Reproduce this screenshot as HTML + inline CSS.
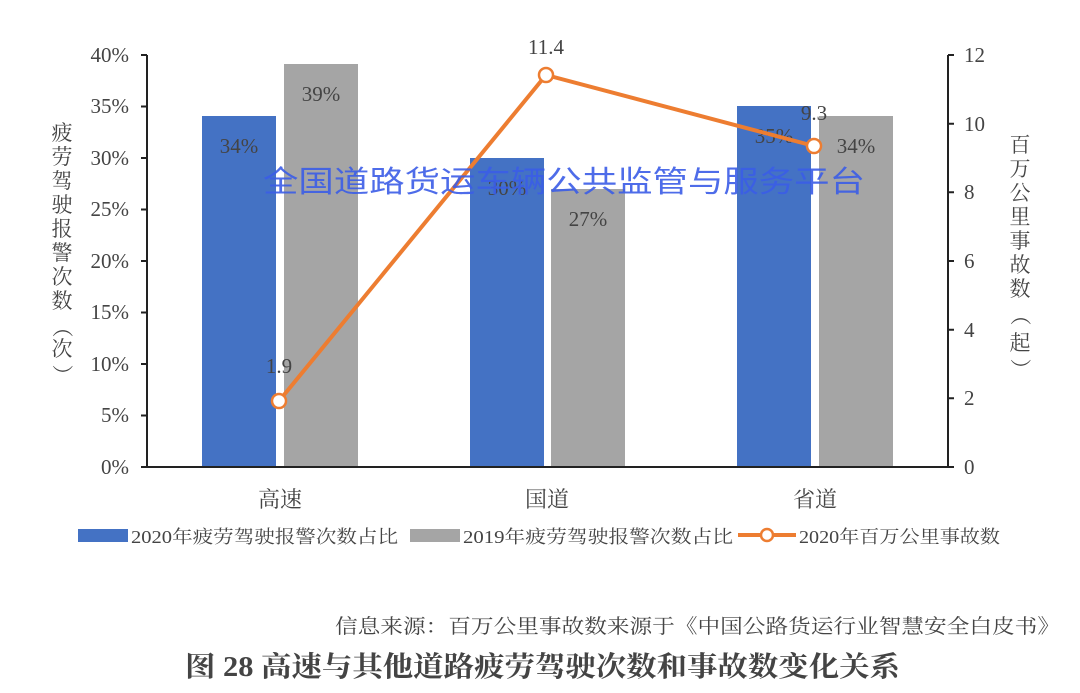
<!DOCTYPE html>
<html><head><meta charset="utf-8"><style>
html,body{margin:0;padding:0;background:#fff;}
svg{display:block;}
text{font-family:"Liberation Serif","Noto Serif CJK SC",serif;fill:#444;}
</style></head><body>
<svg width="1080" height="693" viewBox="0 0 1080 693" xmlns="http://www.w3.org/2000/svg">
<rect width="1080" height="693" fill="#fff"/>
<rect x="202" y="116" width="74" height="351" fill="#4472c4"/>
<rect x="284" y="64" width="74" height="403" fill="#a5a5a5"/>
<rect x="470" y="158" width="74" height="309" fill="#4472c4"/>
<rect x="551" y="189" width="74" height="278" fill="#a5a5a5"/>
<rect x="737" y="106" width="74" height="361" fill="#4472c4"/>
<rect x="819" y="116" width="74" height="351" fill="#a5a5a5"/>
<g stroke="#222" stroke-width="2" fill="none">
<line x1="147" y1="55" x2="147" y2="467"/>
<line x1="147" y1="467" x2="948" y2="467"/>
<line x1="948" y1="55" x2="948" y2="467"/>
<path d="M141 55H147M141 106.5H147M141 158H147M141 209.5H147M141 261H147M141 312.5H147M141 364H147M141 415.5H147M141 467H147"/>
<path d="M948 55H954M948 123.7H954M948 192.3H954M948 261H954M948 329.7H954M948 398.3H954M948 467H954"/>
</g>
<g font-size="21" text-anchor="end">
<text x="129" y="62">40%</text><text x="129" y="113">35%</text><text x="129" y="165">30%</text><text x="129" y="216">25%</text><text x="129" y="268">20%</text><text x="129" y="319">15%</text><text x="129" y="371">10%</text><text x="129" y="422">5%</text><text x="129" y="474">0%</text>
</g>
<g font-size="21">
<text x="964" y="62">12</text><text x="964" y="131">10</text><text x="964" y="199">8</text><text x="964" y="268">6</text><text x="964" y="337">4</text><text x="964" y="405">2</text><text x="964" y="474">0</text>
</g>
<g font-size="22" text-anchor="middle" fill="#333">
<text x="280" y="507">高速</text><text x="547" y="507">国道</text><text x="815" y="507">省道</text>
</g>
<g font-size="21" text-anchor="middle">
<text x="62" y="140">疲</text><text x="62" y="164">劳</text><text x="62" y="188">驾</text><text x="62" y="212">驶</text><text x="62" y="236">报</text><text x="62" y="260">警</text><text x="62" y="284">次</text><text x="62" y="308">数</text>
<text x="62" y="334" transform="rotate(90 62 327)">（</text><text x="62" y="356">次</text><text x="62" y="382" transform="rotate(90 62 375)">）</text>
<text x="1020" y="152">百</text><text x="1020" y="176">万</text><text x="1020" y="200">公</text><text x="1020" y="224">里</text><text x="1020" y="248">事</text><text x="1020" y="272">故</text><text x="1020" y="296">数</text>
<text x="1020" y="322" transform="rotate(90 1020 315)">（</text><text x="1020" y="350">起</text><text x="1020" y="376" transform="rotate(90 1020 369)">）</text>
</g>
<g font-size="21" text-anchor="middle" fill="#333">
<text x="239" y="153">34%</text><text x="321" y="101">39%</text>
<text x="507" y="195">30%</text><text x="588" y="226">27%</text>
<text x="774" y="143">35%</text><text x="856" y="153">34%</text>
</g>
<polyline points="279,401 546,75 814,146" fill="none" stroke="#ed7d31" stroke-width="4"/>
<g fill="#fff" stroke="#ed7d31" stroke-width="2.5">
<circle cx="279" cy="401" r="7"/><circle cx="546" cy="75" r="7"/><circle cx="814" cy="146" r="7"/>
</g>
<g font-size="21" text-anchor="middle">
<text x="279" y="373">1.9</text><text x="546" y="54">11.4</text><text x="814" y="120">9.3</text>
</g>
<text x="263" y="192" font-size="30" textLength="602" lengthAdjust="spacingAndGlyphs" style="fill:#3b5de7;font-family:'Liberation Sans','Noto Sans CJK SC',sans-serif" opacity="0.9">全国道路货运车辆公共监管与服务平台</text>
<rect x="78" y="529" width="50" height="13" fill="#4472c4"/>
<text x="131" y="543" font-size="18" textLength="267" lengthAdjust="spacingAndGlyphs">2020年疲劳驾驶报警次数占比</text>
<rect x="410" y="529" width="50" height="13" fill="#a5a5a5"/>
<text x="463" y="543" font-size="18" textLength="270" lengthAdjust="spacingAndGlyphs">2019年疲劳驾驶报警次数占比</text>
<line x1="738" y1="535" x2="796" y2="535" stroke="#ed7d31" stroke-width="4"/>
<circle cx="767" cy="535" r="6" fill="#fff" stroke="#ed7d31" stroke-width="2.5"/>
<text x="799" y="543" font-size="18" textLength="201" lengthAdjust="spacingAndGlyphs">2020年百万公里事故数</text>
<text x="335" y="633" font-size="20" textLength="725" lengthAdjust="spacingAndGlyphs" fill="#333">信息来源：百万公里事故数来源于《中国公路货运行业智慧安全白皮书》</text>
<text x="185" y="676" font-size="28" font-weight="bold" textLength="715" lengthAdjust="spacingAndGlyphs" fill="#111">图 28 高速与其他道路疲劳驾驶次数和事故数变化关系</text>
</svg>
</body></html>
